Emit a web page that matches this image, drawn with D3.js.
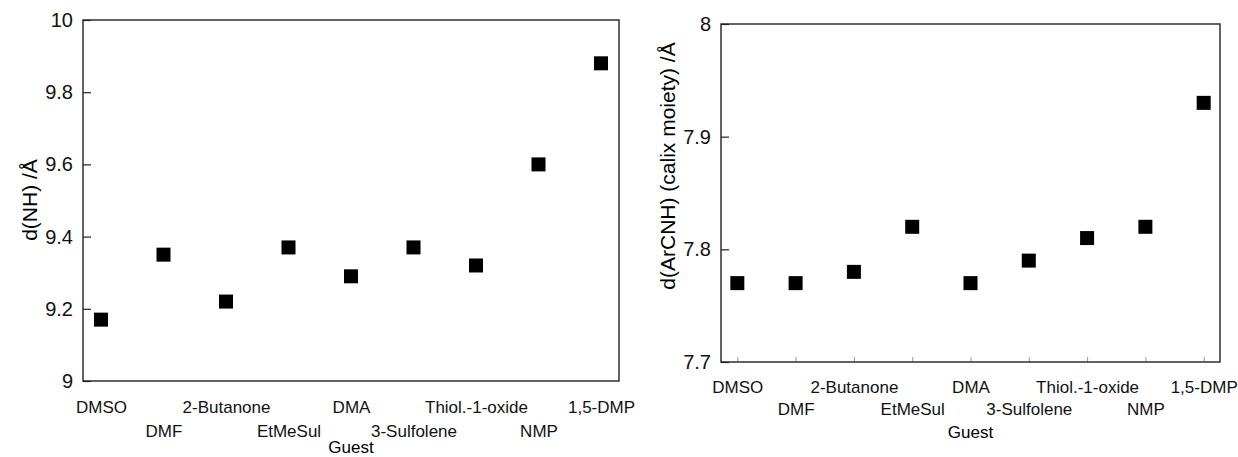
<!DOCTYPE html>
<html>
<head>
<meta charset="utf-8">
<script src="https://cdn.jsdelivr.net/npm/d3@7"></script>
<style>
  body { margin: 0; background: #fff; }
  svg { font-family: "Liberation Sans", Arial, Helvetica, sans-serif; }
  .axis path { display: none; }
  .axis line { stroke: #222; stroke-width: 1.2; }
  .axis text { fill: #111; }
</style>
</head>
<body>
<svg id="chart" width="1238" height="457"></svg>
<script>
// guests along the x axis (same order in both panels)
const guests = ["DMSO", "DMF", "2-Butanone", "EtMeSul", "DMA", "3-Sulfolene", "Thiol.-1-oxide", "NMP", "1,5-DMP"];

// left panel: d(NH) in angstrom
const dNH = [9.17, 9.35, 9.22, 9.37, 9.29, 9.37, 9.32, 9.60, 9.88];
const ticksNH = [9, 9.2, 9.4, 9.6, 9.8, 10];

// right panel: d(ArCNH) (calix moiety) in angstrom
const dArCNH = [7.77, 7.77, 7.78, 7.82, 7.77, 7.79, 7.81, 7.82, 7.93];
const ticksArCNH = [7.7, 7.8, 7.9, 8];

const svg = d3.select("#chart");

function panel(opt) {
  const x = d3.scalePoint().domain(guests).range([opt.left, opt.right]).padding(opt.pad),
        y = d3.scaleLinear().domain(opt.domain).range([opt.bottom, opt.top]),
        g = svg.append("g");

  // y axis, ticks pointing inward
  g.append("g")
    .attr("class", "axis")
    .attr("transform", `translate(${opt.left},0)`)
    .call(d3.axisLeft(y).tickValues(opt.ticks).tickSizeInner(-8).tickSizeOuter(0)
      .tickPadding(10).tickFormat(d => String(d)))
    .selectAll("text").style("font-size", "20px");

  // x axis with the labels staggered on two rows
  const xa = g.append("g")
    .attr("class", "axis")
    .attr("transform", `translate(0,${opt.bottom})`)
    .call(d3.axisBottom(x).tickSizeInner(opt.xTick).tickSizeOuter(0));
  xa.selectAll("line").style("stroke", "#999").style("stroke-width", 1);
  xa.selectAll("text")
    .style("font-size", "17px")
    .attr("dy", null)
    .attr("y", (d, i) => i % 2 ? opt.row2 : opt.row1);

  // frame
  g.append("rect")
    .attr("x", opt.left).attr("y", opt.top)
    .attr("width", opt.right - opt.left).attr("height", opt.bottom - opt.top)
    .attr("fill", "none").attr("stroke", "#222").attr("stroke-width", 1.4);

  // markers
  const s = 14;
  g.selectAll(".pt")
    .data(opt.values)
    .enter().append("rect")
      .attr("class", "pt")
      .attr("x", (d, i) => x(guests[i]) - s / 2)
      .attr("y", d => y(d) - s / 2)
      .attr("width", s).attr("height", s)
      .attr("fill", "#000");

  // axis titles
  g.append("text")
    .attr("x", (opt.left + opt.right) / 2)
    .attr("y", opt.guestY)
    .attr("text-anchor", "middle")
    .style("font-size", "17px")
    .text("Guest");

  g.append("text")
    .attr("transform", `translate(${opt.titleX},${opt.titleY}) rotate(-90)`)
    .attr("text-anchor", "middle")
    .attr("dominant-baseline", "central")
    .style("font-size", opt.titleSize)
    .text(opt.title);
}

panel({
  left: 83, right: 619, top: 20, bottom: 381, pad: 0.288,
  domain: [9, 10], ticks: ticksNH, values: dNH,
  xTick: 0, row1: 32, row2: 56, guestY: 453,
  title: "d(NH) /Å", titleX: 29, titleY: 200, titleSize: "21px"
});

panel({
  left: 721, right: 1220, top: 24, bottom: 362, pad: 0.28,
  domain: [7.7, 8], ticks: ticksArCNH, values: dArCNH,
  xTick: -5, row1: 31, row2: 53, guestY: 438,
  title: "d(ArCNH) (calix moiety) /Å", titleX: 667, titleY: 166, titleSize: "21px"
});
</script>
</body>
</html>
